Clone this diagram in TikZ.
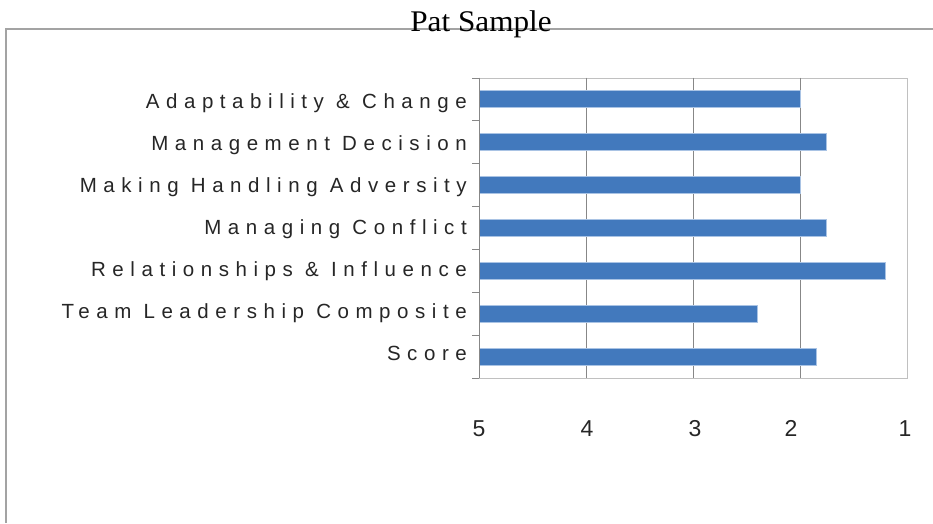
\documentclass[tikz,border=0pt]{standalone}
\usepackage{fontspec}
\setmainfont{Liberation Serif}
\newfontfamily\catfont[LetterSpace=32]{Liberation Sans}
\newfontfamily\numfont{Liberation Sans}
\definecolor{barblue}{HTML}{4279BD}
\definecolor{baredge}{HTML}{A9C3E4}
\definecolor{gridgray}{HTML}{878787}
\definecolor{boxgray}{HTML}{C0C0C0}
\definecolor{framegray}{HTML}{A3A3A3}
\tikzset{
  catlabel/.style={anchor=base east, inner sep=0pt, text=black!85, font=\catfont\fontsize{20.5}{20.5}\selectfont},
  numlabel/.style={anchor=base, inner sep=0pt, text=black!85, font=\numfont\fontsize{23}{23}\selectfont},
  bar/.style={fill=barblue, draw=baredge, line width=0.6pt}
}

\begin{document}
\begin{tikzpicture}[x=1pt,y=-1pt]
\useasboundingbox (0,0) rectangle (933,523);
\draw[framegray, line width=1.5pt] (6,523) -- (6,29) -- (933,29);
\node[anchor=base, inner sep=0pt, xscale=1.04, font=\fontsize{30}{30}\selectfont] (title) at (481,31.7) {Pat Sample};

\draw[boxgray] (479.3,77.7) -- (906.7,77.7) -- (906.7,378) -- (479.3,378);
\foreach \v in {4,3,2}
	\draw[gridgray] ({479.3+(5-\v)*106.85},77.7) -- ({479.3+(5-\v)*106.85},378);
\foreach \v/\x in {5/479,4/587,3/695,2/791,1/905}
	\node[numlabel] (n\v) at (\x,436.7) {\v};

\foreach \lab/\val [count=\i] in {Adaptability \& Change/2, Management Decision/1.75, Making Handling Adversity/2, Managing Conflict/1.75, Relationships \& Influence/1.2, Team Leadership Composite/2.4, Score/1.85}
{
	\draw[bar] (479.3,{77.7+(\i-0.5)*42.9-8.4}) rectangle ({479.3+(5-\val)*106.85},{77.7+(\i-0.5)*42.9+8.4});
	\node[catlabel] (lab\i) at (467,{108.3+(\i-1)*41.96}) {\lab};
}

\draw[gridgray] (479.3,77.7) -- (479.3,378);
\foreach \k in {0,...,7}
	\draw[gridgray] (472,{77.7+\k*42.9}) -- (479.3,{77.7+\k*42.9});
\end{tikzpicture}
\end{document}
